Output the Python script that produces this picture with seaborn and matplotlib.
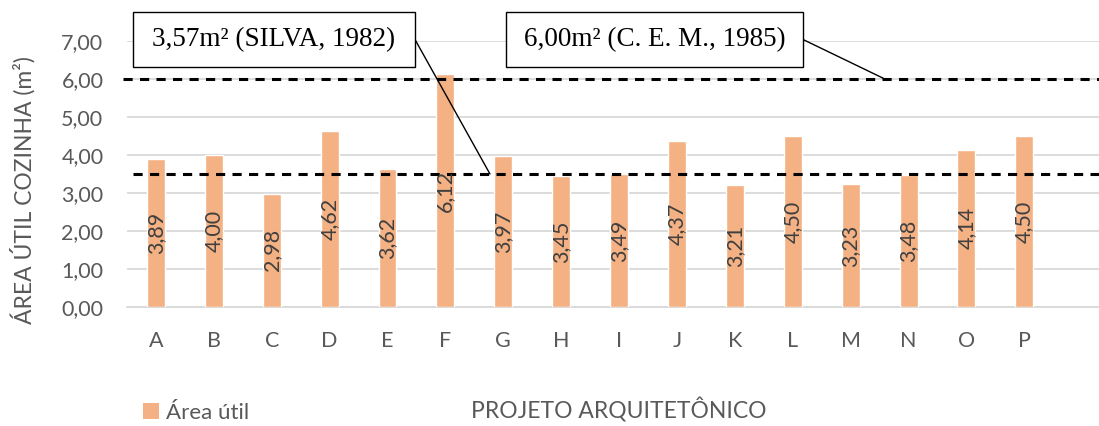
import matplotlib
matplotlib.use("Agg")
import matplotlib.pyplot as plt
import seaborn as sns
from matplotlib.patches import Rectangle, ConnectionPatch

projetos = list("ABCDEFGHIJKLMNOP")
area_util = [3.89, 4.00, 2.98, 4.62, 3.62, 6.12, 3.97, 3.45, 3.49, 4.37, 3.21, 4.50, 3.23, 3.48, 4.14, 4.50]
ref_silva = 3.5
ref_cem = 6.0
rotulo_silva = "3,57m² (SILVA, 1982)"
rotulo_cem = "6,00m² (C. E. M., 1985)"
yticks = [0, 1, 2, 3, 4, 5, 6, 7]
ytick_labels = ["0,00", "1,00", "2,00", "3,00", "4,00", "5,00", "6,00", "7,00"]

sns.set_theme(style="white")
plt.rcParams['font.family'] = ['Lato', 'DejaVu Sans']

W, H = 1099, 426
fig = plt.figure(figsize=(W / 100, H / 100), dpi=100)
ax = fig.add_axes([127 / W, 1 - 307 / H, 1 - 127 / W, (307 - 41) / H])

BAR = "#F4B183"
GRAY = "#595959"
sns.barplot(x=projetos, y=area_util, color=BAR, width=0.31, ax=ax, saturation=1, zorder=3,
            legend=False)

ax.set_xlim(-0.5, 16.29)
ax.set_ylim(0, 7)
ax.set_yticks(yticks)
ax.set_yticklabels(ytick_labels, fontsize=15.5, color=GRAY)
ax.tick_params(axis='x', labelsize=15.5, labelcolor=GRAY, length=0, pad=17)
ax.tick_params(axis='y', length=0, pad=17)
for s in ["top", "right", "left"]:
    ax.spines[s].set_visible(False)
ax.spines["bottom"].set_color("#D9D9D9")
ax.spines["bottom"].set_linewidth(1.3)
ax.yaxis.grid(True, color="#D9D9D9", linewidth=1.3, zorder=0)
ax.set_axisbelow(True)

ax.set_ylabel("ÁREA ÚTIL COZINHA (m²)", fontsize=16.5, color=GRAY)
ax.yaxis.set_label_coords(-0.094, 0.44)
ax.set_xlabel("")

# value labels
for i, v in enumerate(area_util):
    ax.text(i, v / 2, f"{v:.2f}".replace(".", ","), rotation=90, ha="center", va="center",
            fontsize=15.5, color="#404040", zorder=5)

# reference lines
ax.plot([-0.57, 16.29], [ref_cem, ref_cem], color="black", lw=2.2, ls=(0, (3.0, 2.4)),
        clip_on=False, zorder=4)
ax.plot([-0.40, 16.29], [ref_silva, ref_silva], color="black", lw=2.2, ls=(0, (3.0, 2.4)),
        clip_on=False, zorder=4)

# annotation boxes
def box(x0, x1, y0, y1, label, target):
    fig.patches.append(Rectangle((x0, H - y1), x1 - x0, y1 - y0, transform=None,
                                 facecolor="white", edgecolor="black", lw=1.0, zorder=6))
    fig.text((x0 + x1) / 2 / W, 1 - (y0 + y1) / 2 / H, label, ha="center", va="center",
             family="Liberation Serif", fontsize=19.5, color="black", zorder=7)
    con = ConnectionPatch(xyA=(x1, H - (y0 + y1) / 2), coordsA="figure pixels",
                          xyB=target, coordsB=ax.transData, color="black", lw=1.0, zorder=5)
    fig.add_artist(con)

box(133, 415, 12, 67, rotulo_silva, (5.77, ref_silva))
box(506, 803, 12, 67, rotulo_cem, (12.59, ref_cem))

fig.text(619 / W, 1 - 410 / H, "PROJETO ARQUITETÔNICO", ha="center", va="center",
         fontsize=16.5, color=GRAY)

handle = Rectangle((0, 0), 1, 1, facecolor=BAR, edgecolor="none")
fig.legend([handle], ["Área útil"], loc="center left", bbox_to_anchor=(143 / W, 1 - 413 / H),
           frameon=False, handlelength=0.7, handleheight=0.7, handletextpad=0.35,
           prop={"size": 16}, labelcolor=GRAY, borderaxespad=0, borderpad=0)

fig.savefig("out.png", dpi=100)
